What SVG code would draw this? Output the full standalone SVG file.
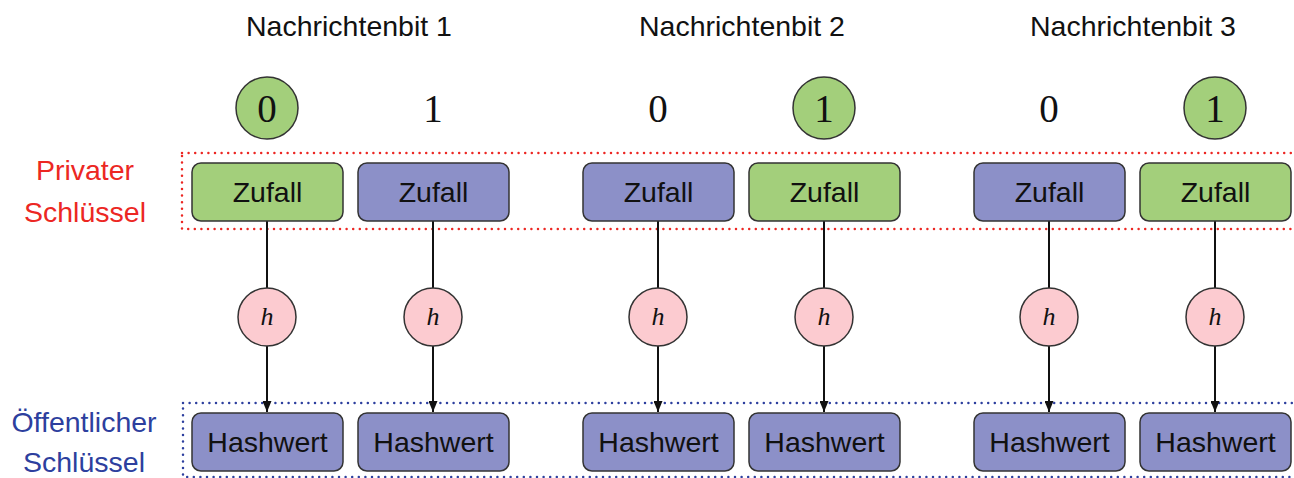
<svg xmlns="http://www.w3.org/2000/svg" width="1294" height="478" viewBox="0 0 1294 478">
<defs>
<style>
.t{font-family:"Liberation Sans",Arial,sans-serif;font-size:28.5px;fill:#111;text-anchor:middle}
.d{font-family:"Liberation Serif","Times New Roman",serif;font-size:39px;fill:#111;text-anchor:middle}
.h{font-family:"Liberation Serif","Times New Roman",serif;font-style:italic;font-size:26px;fill:#111;text-anchor:middle}
.g{fill:#a3cf7b;stroke:#333;stroke-width:1.5}
.b{fill:#8c90c8;stroke:#333;stroke-width:1.5}
.p{fill:#fccbd0;stroke:#333;stroke-width:1.5}
.c{stroke:#111;stroke-width:2;fill:none}
.red{font-family:"Liberation Sans",Arial,sans-serif;font-size:28.5px;fill:#ec2723;text-anchor:middle}
.blu{font-family:"Liberation Sans",Arial,sans-serif;font-size:28.5px;fill:#2d3f9e;text-anchor:middle}
</style>
<marker id="ah" viewBox="0 0 11 9" refX="11" refY="4.5" markerWidth="11" markerHeight="9" markerUnits="userSpaceOnUse" orient="auto">
<path d="M0,0 L11,4.5 L0,9 z" fill="#111"/>
</marker>
</defs>
<rect width="1294" height="478" fill="#fff"/>

<g id="titles">
<text class="t" x="349" y="36">Nachrichtenbit 1</text>
<text class="t" x="742" y="36">Nachrichtenbit 2</text>
<text class="t" x="1133" y="36">Nachrichtenbit 3</text>
</g>

<g id="privater-schluessel">
<rect x="182" y="153" width="1130" height="76" fill="none" stroke="#ec2723" stroke-width="2.5" stroke-dasharray="0 6.6" stroke-linecap="round"/>
<text class="red" x="85" y="180">Privater</text>
<text class="red" x="85" y="222">Schlüssel</text>
</g>

<g id="oeffentlicher-schluessel">
<rect x="183" y="403" width="1130" height="74" fill="none" stroke="#2d3f9e" stroke-width="2.5" stroke-dasharray="0 6.6" stroke-linecap="round"/>
<text class="blu" x="84" y="432">Öffentlicher</text>
<text class="blu" x="84" y="472">Schlüssel</text>
</g>

<g id="bits">
<g id="bit1-0"><circle class="g" cx="267" cy="108" r="31"/><text class="d" x="267" y="122">0</text></g>
<g id="bit1-1"><text class="d" x="433" y="122">1</text></g>
<g id="bit2-0"><text class="d" x="658" y="122">0</text></g>
<g id="bit2-1"><circle class="g" cx="824" cy="108" r="31"/><text class="d" x="824" y="122">1</text></g>
<g id="bit3-0"><text class="d" x="1049" y="122">0</text></g>
<g id="bit3-1"><circle class="g" cx="1215" cy="108" r="31"/><text class="d" x="1215" y="122">1</text></g>
</g>

<g id="connectors">
<line class="c" x1="267" y1="221" x2="267" y2="288"/><line class="c" x1="267" y1="346" x2="267" y2="412" marker-end="url(#ah)"/>
<line class="c" x1="433" y1="221" x2="433" y2="288"/><line class="c" x1="433" y1="346" x2="433" y2="412" marker-end="url(#ah)"/>
<line class="c" x1="658" y1="221" x2="658" y2="288"/><line class="c" x1="658" y1="346" x2="658" y2="412" marker-end="url(#ah)"/>
<line class="c" x1="824" y1="221" x2="824" y2="288"/><line class="c" x1="824" y1="346" x2="824" y2="412" marker-end="url(#ah)"/>
<line class="c" x1="1049" y1="221" x2="1049" y2="288"/><line class="c" x1="1049" y1="346" x2="1049" y2="412" marker-end="url(#ah)"/>
<line class="c" x1="1215" y1="221" x2="1215" y2="288"/><line class="c" x1="1215" y1="346" x2="1215" y2="412" marker-end="url(#ah)"/>
</g>

<g id="zufall1"><rect class="g" x="192" y="163" width="151" height="58" rx="9"/><text class="t" x="267.5" y="202">Zufall</text></g>
<g id="zufall2"><rect class="b" x="358" y="163" width="151" height="58" rx="9"/><text class="t" x="433.5" y="202">Zufall</text></g>
<g id="zufall3"><rect class="b" x="583" y="163" width="151" height="58" rx="9"/><text class="t" x="658.5" y="202">Zufall</text></g>
<g id="zufall4"><rect class="g" x="749" y="163" width="151" height="58" rx="9"/><text class="t" x="824.5" y="202">Zufall</text></g>
<g id="zufall5"><rect class="b" x="974" y="163" width="151" height="58" rx="9"/><text class="t" x="1049.5" y="202">Zufall</text></g>
<g id="zufall6"><rect class="g" x="1140" y="163" width="151" height="58" rx="9"/><text class="t" x="1215.5" y="202">Zufall</text></g>

<g id="h1"><circle class="p" cx="267" cy="317" r="29"/><text class="h" x="267" y="325">h</text></g>
<g id="h2"><circle class="p" cx="433" cy="317" r="29"/><text class="h" x="433" y="325">h</text></g>
<g id="h3"><circle class="p" cx="658" cy="317" r="29"/><text class="h" x="658" y="325">h</text></g>
<g id="h4"><circle class="p" cx="824" cy="317" r="29"/><text class="h" x="824" y="325">h</text></g>
<g id="h5"><circle class="p" cx="1049" cy="317" r="29"/><text class="h" x="1049" y="325">h</text></g>
<g id="h6"><circle class="p" cx="1215" cy="317" r="29"/><text class="h" x="1215" y="325">h</text></g>

<g id="hash1"><rect class="b" x="192" y="413" width="151" height="58" rx="9"/><text class="t" x="267.5" y="452">Hashwert</text></g>
<g id="hash2"><rect class="b" x="358" y="413" width="151" height="58" rx="9"/><text class="t" x="433.5" y="452">Hashwert</text></g>
<g id="hash3"><rect class="b" x="583" y="413" width="151" height="58" rx="9"/><text class="t" x="658.5" y="452">Hashwert</text></g>
<g id="hash4"><rect class="b" x="749" y="413" width="151" height="58" rx="9"/><text class="t" x="824.5" y="452">Hashwert</text></g>
<g id="hash5"><rect class="b" x="974" y="413" width="151" height="58" rx="9"/><text class="t" x="1049.5" y="452">Hashwert</text></g>
<g id="hash6"><rect class="b" x="1140" y="413" width="151" height="58" rx="9"/><text class="t" x="1215.5" y="452">Hashwert</text></g>
</svg>
